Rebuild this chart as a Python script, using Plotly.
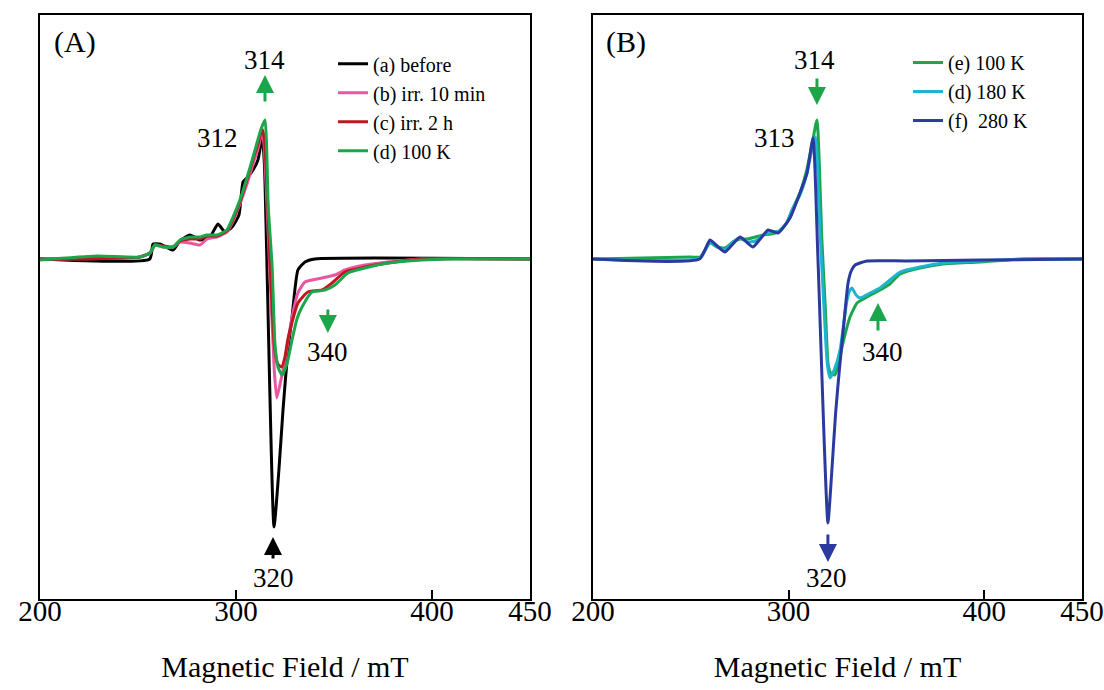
import plotly.graph_objects as go

# ---------------- Panel A data (field in mT, intensity in a.u.) ----------------
field_a = [200, 256.0, 257.7, 261.2, 264.3, 267.9, 271.4, 276.5, 281.6, 286.7, 290.8, 294.4, 298.0,
           301.5, 303.6, 305.6, 308.7, 311.2, 313.4, 314.5, 319.4, 321.9, 324.0, 326.5, 328.6,
           331.6, 335.2, 340.3, 450]
int_a = [0, 0, 0.15, 0.15, 0.12, 0.09, 0.18, 0.24, 0.19, 0.22, 0.35, 0.27, 0.32,
         0.44, 0.77, 0.81, 0.89, 0.99, 1.22, 0.95, -2.68, -2.11, -1.51, -0.91, -0.58,
         -0.11, -0.03, 0, 0]

field_b = [200, 251, 256.1, 258.7, 262.8, 267.9, 271.4, 276.5, 281.6, 285.2, 290.3, 295.4, 298.5,
           302.0, 305.6, 308.7, 311.2, 313.3, 314.3, 317.0, 319.5, 320.8, 322.5, 325.0, 328.6,
           331.6, 335.2, 343.9, 350.5, 355.6, 365.8, 377.6, 394.9, 450]
int_b = [0, 0.02, 0.06, 0.14, 0.12, 0.12, 0.17, 0.16, 0.14, 0.2, 0.22, 0.27, 0.38,
         0.55, 0.75, 0.95, 1.1, 1.27, 1.15, 0, -1.1, -1.39, -1.25, -1.01, -0.58,
         -0.34, -0.23, -0.19, -0.16, -0.11, -0.06, -0.03, 0, 0]

field_c = [200, 251, 256.1, 258.7, 262.8, 267.9, 271.4, 276.5, 281.6, 285.2, 290.3, 295.4, 298.5,
           302.0, 305.6, 308.7, 311.2, 313.3, 314.5, 317.3, 319.5, 321.3, 323.3, 325.0, 326.5,
           331.6, 336.7, 343.9, 349.0, 355.6, 365.8, 377.6, 394.9, 450]
int_c = [0, 0.02, 0.06, 0.14, 0.13, 0.12, 0.18, 0.2, 0.2, 0.23, 0.23, 0.28, 0.4,
         0.57, 0.79, 1.0, 1.15, 1.3, 1.2, 0, -0.85, -1.05, -1.08, -0.98, -0.8,
         -0.44, -0.33, -0.31, -0.24, -0.13, -0.08, -0.04, 0, 0]

field_d = [200, 229, 251, 256.1, 258.7, 262.8, 267.9, 271.4, 276.5, 281.6, 285.2, 290.3, 295.4,
           298.5, 302.0, 305.6, 308.7, 310.7, 312.8, 314.8, 316.5, 318.4, 319.9, 321.4, 323.5,
           326.0, 328.6, 331.1, 333.7, 338.8, 345.4, 350.5, 357.1, 365.8, 377.6, 394.9, 409.2, 450]
int_d = [-0.01, 0.03, 0.02, 0.06, 0.14, 0.12, 0.12, 0.19, 0.22, 0.22, 0.24, 0.24, 0.29,
         0.42, 0.59, 0.81, 1.02, 1.16, 1.30, 1.39, 0.5, -0.05, -0.85, -1.08, -1.16,
         -1.05, -0.81, -0.6, -0.48, -0.33, -0.31, -0.26, -0.14, -0.09, -0.04, -0.01, 0, 0]

# ---------------- Panel B data ----------------
field_e = [200, 250, 254.8, 259.8, 263.5, 267.5, 271.5, 275.2, 279, 283, 287, 291, 295.5, 299,
           302, 305.8, 309.4, 312.5, 314.5, 317.0, 318.8, 320.2, 321.5, 323.7, 325.5, 327.8,
           331.4, 335.0, 340.1, 346.7, 351.8, 357.0, 367.2, 378.9, 397.9, 420, 450]
int_e = [0, 0.02, 0.02, 0.16, 0.12, 0.11, 0.17, 0.2, 0.2, 0.22, 0.24, 0.25, 0.28, 0.36,
         0.5, 0.66, 0.9, 1.2, 1.39, 0.2, -0.5, -1.05, -1.14, -1.16, -1.05, -0.84,
         -0.58, -0.44, -0.38, -0.31, -0.25, -0.15, -0.09, -0.05, -0.03, 0, 0]

field_g = [200, 254.8, 259.8, 263.5, 267.5, 271.5, 275.2, 279, 283, 287, 291, 295, 299, 302,
           305.8, 309.4, 312.5, 313.8, 316.0, 318.0, 319.8, 321.2, 323.5, 326.3, 328.5, 329.9,
           331.4, 332.4, 334.5, 336.5, 341.6, 346.7, 351.8, 357.0, 367.2, 378.9, 397.9, 420, 450]
int_g = [0, 0.01, 0.17, 0.12, 0.09, 0.17, 0.21, 0.17, 0.18, 0.24, 0.27, 0.28, 0.36, 0.5,
         0.64, 0.86, 1.15, 1.22, 0.3, -0.45, -1.05, -1.19, -1.1, -0.91, -0.6, -0.41,
         -0.31, -0.29, -0.36, -0.39, -0.34, -0.29, -0.21, -0.13, -0.08, -0.04, -0.02, 0, 0]

field_f = [200, 254.5, 259.8, 263.5, 267.5, 271.5, 275.2, 278.5, 281.8, 285.5, 289.5, 294.6,
           300.7, 305.8, 309.4, 312.5, 315.0, 320.1, 322.0, 324.0, 326.0, 327.8, 329.2, 330.4,
           332.0, 334.0, 340.1, 360, 398, 450]
int_f = [0, 0, 0.19, 0.13, 0.07, 0.15, 0.22, 0.17, 0.12, 0.2, 0.29, 0.26,
         0.41, 0.66, 0.86, 1.21, 0.01, -2.64, -2.15, -1.55, -1.1, -0.74, -0.45, -0.24,
         -0.12, -0.06, -0.02, -0.02, -0.01, 0]

names_a = ["(a) before", "(b) irr. 10 min", "(c) irr. 2 h", "(d) 100 K"]
names_b = ["(e) 100 K", "(d) 180 K", "(f)\u00a0 280 K"]
colors_a = ["#000000", "#e8579f", "#c0161f", "#1ca64c"]
colors_b = ["#1ca64c", "#1db4d0", "#2b3a9e"]

x_ticks = [200, 300, 400, 450]
x_range = [200, 450]
y_range = [-3.40, 2.44]

FONT = "Liberation Serif, Times New Roman, serif"

fig = go.Figure()
series_a = [(field_a, int_a), (field_b, int_b), (field_c, int_c), (field_d, int_d)]
for (fx, fy), nm, col in zip(series_a, names_a, colors_a):
    fig.add_trace(go.Scatter(x=fx, y=fy, mode="lines", name=nm, xaxis="x", yaxis="y",
                             line=dict(color=col, width=3, shape="spline", smoothing=0.5),
                             legend="legend"))
series_b = [(field_e, int_e), (field_g, int_g), (field_f, int_f)]
for (fx, fy), nm, col in zip(series_b, names_b, colors_b):
    fig.add_trace(go.Scatter(x=fx, y=fy, mode="lines", name=nm, xaxis="x2", yaxis="y2",
                             line=dict(color=col, width=3, shape="spline", smoothing=0.5),
                             legend="legend2"))

xa = dict(range=x_range, tickvals=x_ticks, ticktext=[str(t) for t in x_ticks],
          ticks="inside", ticklen=9, tickwidth=2, tickcolor="black", automargin=False,
          showline=True, mirror=True, linewidth=2, linecolor="black", showgrid=False,
          zeroline=False, tickfont=dict(family=FONT, size=29, color="black"),
          ticklabelstandoff=-15, ticklabeloverflow="allow",
          title=dict(text="Magnetic Field / mT", font=dict(family=FONT, size=30, color="black"),
                     standoff=30))
ya = dict(range=y_range, showticklabels=False, ticks="", showline=True, mirror=True,
          automargin=False, linewidth=2, linecolor="black", showgrid=False, zeroline=False)

green = colors_a[3]
blue = colors_b[2]

def txt(x, y, t, xref, yref, size=27):
    return dict(x=x, y=y, xref=xref, yref=yref, text=t, showarrow=False,
                font=dict(family=FONT, size=size, color="black"))

def arr(x, y_tip, y_tail, xref, yref, col):
    return dict(x=x, y=y_tip, ax=x, ay=y_tail, xref=xref, yref=yref, axref=xref, ayref=yref,
                text="", showarrow=True, arrowhead=2, arrowsize=1.2, arrowwidth=3, arrowcolor=col)

annotations = [
    txt(217.9, 2.17, "(A)", "x", "y", 30),
    txt(314.3, 1.99, "314", "x", "y"),
    txt(290.8, 1.21, "312", "x", "y"),
    txt(346.9, -0.93, "340", "x", "y"),
    txt(318.9, -3.19, "320", "x", "y"),
    arr(314.8, 1.84, 1.56, "x", "y", green),
    arr(346.9, -0.74, -0.49, "x", "y", green),
    arr(318.9, -2.78, -3.01, "x", "y", "black"),
    txt(216.9, 2.17, "(B)", "x2", "y2", 30),
    txt(313.5, 1.99, "314", "x2", "y2"),
    txt(293.0, 1.21, "313", "x2", "y2"),
    txt(347.8, -0.93, "340", "x2", "y2"),
    txt(319.6, -3.19, "320", "x2", "y2"),
    arr(314.5, 1.54, 1.82, "x2", "y2", green),
    arr(345.7, -0.44, -0.73, "x2", "y2", green),
    arr(320.1, -3.03, -2.74, "x2", "y2", blue),
]

fig.update_layout(
    width=1104, height=690,
    margin=dict(l=40, r=22, t=15, b=91, autoexpand=False),
    paper_bgcolor="white", plot_bgcolor="white",
    font=dict(family=FONT, color="black"),
    xaxis=dict(domain=[0, 0.4702], anchor="y", **xa),
    yaxis=dict(domain=[0, 1], anchor="x", **ya),
    xaxis2=dict(domain=[0.5307, 1], anchor="y2", **xa),
    yaxis2=dict(domain=[0, 1], anchor="x2", **ya),
    legend=dict(x=0.2812, y=0.950, xanchor="left", yanchor="top", bgcolor="rgba(0,0,0,0)",
                font=dict(family=FONT, size=20, color="black")),
    legend2=dict(x=0.833, y=0.952, xanchor="left", yanchor="top", bgcolor="rgba(0,0,0,0)",
                 font=dict(family=FONT, size=20, color="black")),
    annotations=annotations,
    showlegend=True,
)

# remove the default page margin so the 1104x690 figure fills the window exactly
fig.write_html("out.html", config={"displayModeBar": False},
               post_script="document.body.style.margin='0';document.body.style.overflow='hidden';")
